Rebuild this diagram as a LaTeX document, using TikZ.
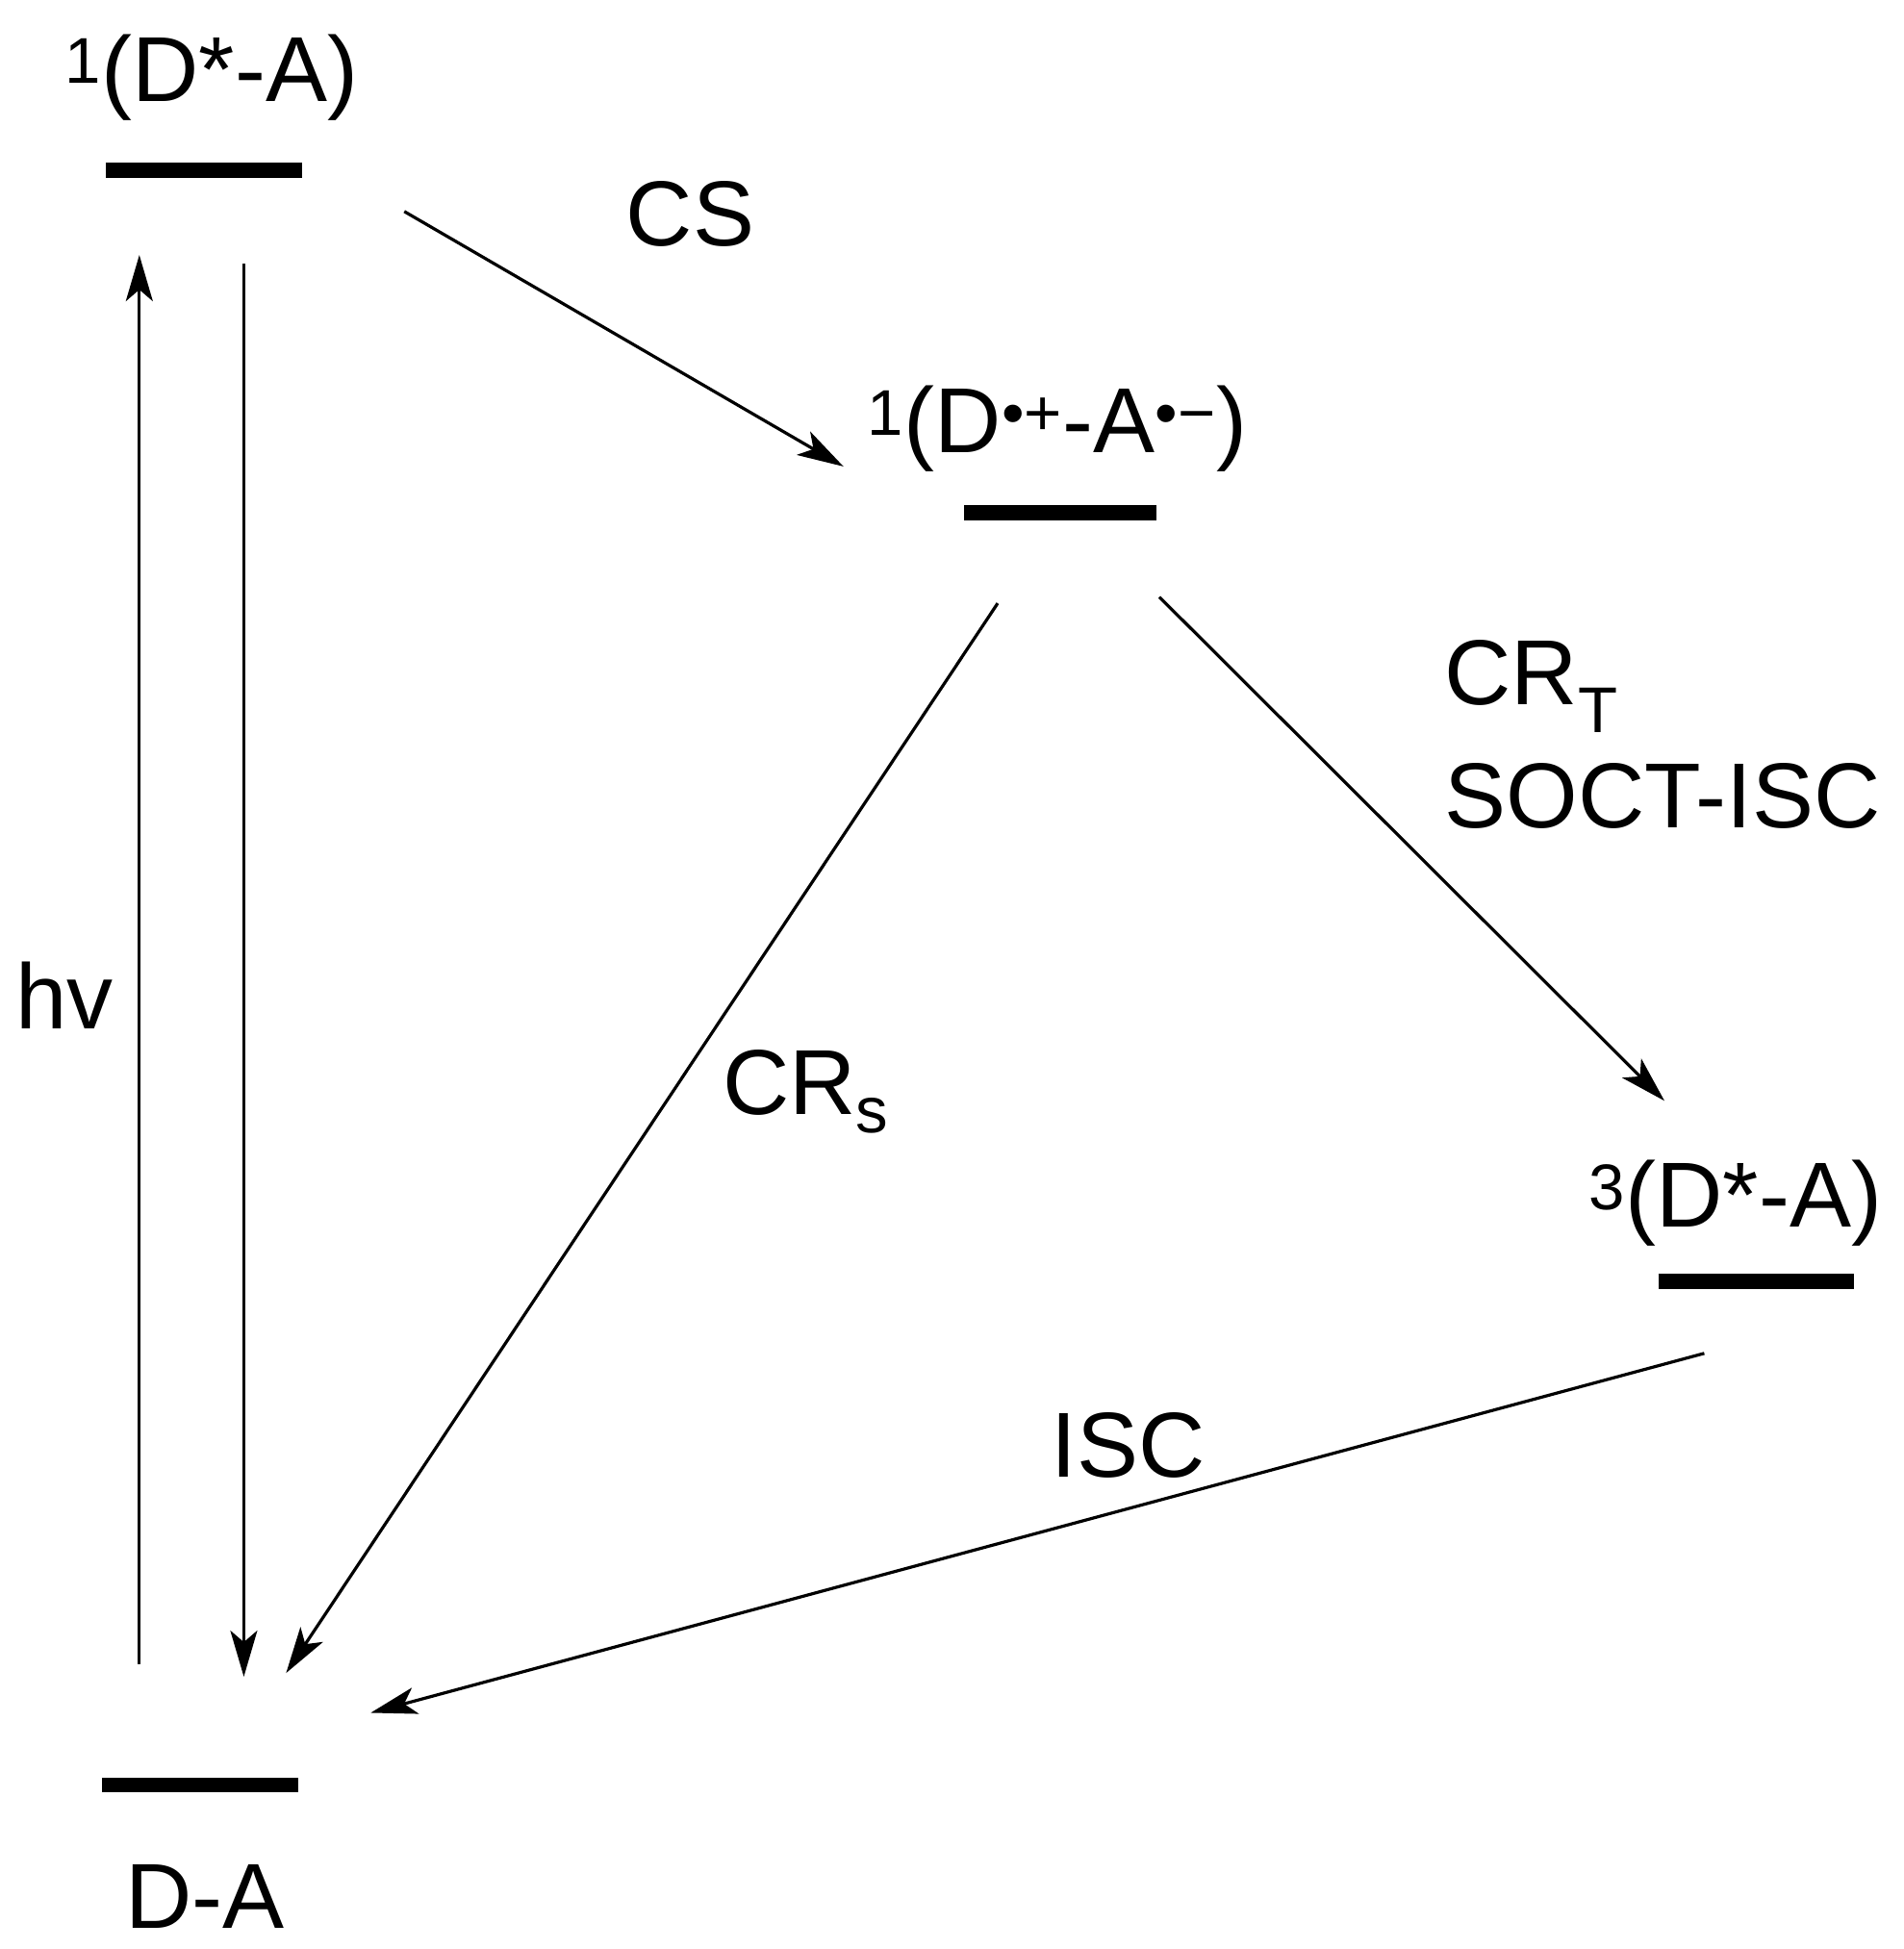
\documentclass[tikz,border=0pt]{standalone}
\usepackage{fontspec}
\setmainfont{Liberation Sans}
\usetikzlibrary{arrows.meta}
\begin{document}
\begin{tikzpicture}[x=0.6467pt,y=-0.6467pt,
  lvl/.style={line width=7.8pt},
  arr/.style={line width=1.6pt,-{Stealth[length=24pt,width=14pt,inset=6pt]}},
  lbl/.style={font=\fontsize{48}{54}\selectfont,inner sep=0pt}]
\useasboundingbox (0,0) rectangle (1530.5,1566.9);
\draw[lvl] (85,137) -- (243,137);
\draw[lvl] (775,412) -- (930,412);
\draw[lvl] (1333,1030) -- (1490,1030);
\draw[lvl] (82,1435) -- (240,1435);
\node[lbl] (l1) at (170,62) {\textsuperscript{1}(D*-A)};
\node[lbl] (l2) at (850,345) {\textsuperscript{1}(D\textsuperscript{•+}-A\textsuperscript{•−})};
\node[lbl] (l3) at (1395,967) {\textsuperscript{3}(D*-A)};
\node[lbl] (l4) at (165,1525) {D-A};
\coordinate (a1) at (112,1338); \coordinate (a2) at (112,205);
\coordinate (b1s) at (196,212); \coordinate (b1e) at (196,1348);
\coordinate (c1) at (325,170); \coordinate (c2) at (678,375);
\coordinate (d1) at (802,485); \coordinate (d2) at (230,1345);
\coordinate (e1) at (932,480); \coordinate (e2) at (1338,885);
\coordinate (f1) at (1370,1088); \coordinate (f2) at (298,1377);
\draw[arr] (a1) -- (a2);
\draw[arr] (b1s) -- (b1e);
\draw[arr] (c1) -- (c2);
\draw[arr] (d1) -- (d2);
\draw[arr] (e1) -- (e2);
\draw[arr] (f1) -- (f2);
\node[lbl] (cs) at (555,172) {CS};
\node[lbl] (hv) at (52,800) {hv};
\node[lbl] (crs) at (648,878) {CR\textsubscript{s}};
\node[lbl,anchor=west] (crt) at (1161,552) {CR\textsubscript{T}};
\node[lbl,anchor=west] (soct) at (1161,640) {SOCT-ISC};
\node[lbl] (isc) at (907,1162) {ISC};
\end{tikzpicture}
\end{document}
